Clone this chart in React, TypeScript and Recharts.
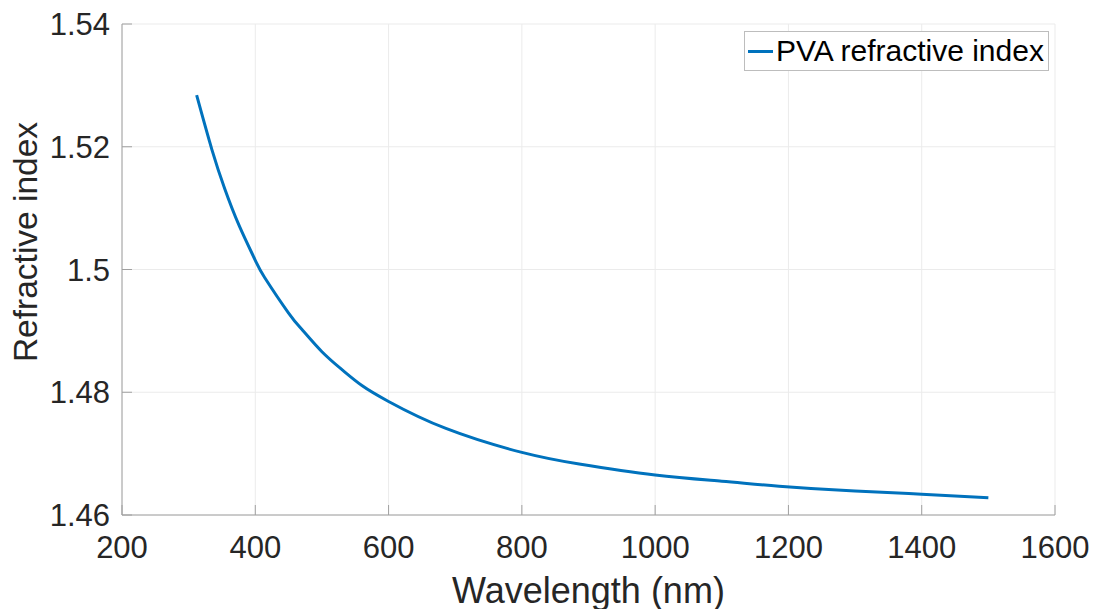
import React from "react";
import {
  LineChart, Line, XAxis, YAxis, CartesianGrid, Legend, Label,
} from "recharts";

// wavelength (nm) and refractive index
const wavelength = [312, 335, 354, 376, 400, 414, 450, 471, 500, 531, 560, 600, 686, 800, 886, 1000, 1100, 1186, 1300, 1400, 1500];
const refIndex = [1.5284, 1.5195, 1.5132, 1.5071, 1.5015, 1.4987, 1.4929, 1.4901, 1.4866, 1.4836, 1.4811, 1.4785, 1.4741, 1.4702, 1.4683, 1.4665, 1.4655, 1.4647, 1.4639, 1.4634, 1.4628];

const xTicks = [200, 400, 600, 800, 1000, 1200, 1400, 1600];
const yTicks = [1.46, 1.48, 1.5, 1.52, 1.54];

const seriesName = "PVA refractive index";

const data = wavelength.map((w, i) => ({ w, n: refIndex[i] }));

const FONT = '"Liberation Sans", Arial, Helvetica, sans-serif';
const BLUE = "#0072BD";
const AXIS = "#a0a0a0";
const TEXT = "#262626";

function LegendBox() {
  return (
    <div
      style={{
        boxSizing: "border-box",
        width: 305,
        height: 40,
        border: "1px solid #bdbdbd",
        background: "#fff",
        display: "flex",
        alignItems: "center",
        fontFamily: FONT,
        fontSize: 30,
        color: "#000",
        whiteSpace: "nowrap",
      }}
    >
      <span style={{ display: "inline-block", width: 25, height: 3, background: BLUE, marginLeft: 3, marginRight: 3 }} />
      <span>{seriesName}</span>
    </div>
  );
}

export default function App() {
  return (
    <div style={{ position: "absolute", left: 0, top: 0, background: "#fff" }}>
      <LineChart width={1095} height={609} data={data} margin={{ top: 24, right: 40, left: 0, bottom: 0 }}>
        <CartesianGrid stroke="#ebebeb" strokeWidth={1} />
        <XAxis
          dataKey="w"
          type="number"
          domain={[200, 1600]}
          ticks={xTicks}
          interval={0}
          height={94}
          tickSize={-10}
          tickMargin={31}
          axisLine={{ stroke: AXIS }}
          tickLine={{ stroke: AXIS }}
          tick={{ fill: TEXT, fontSize: 31, fontFamily: FONT }}
        >
          <Label
            content={({ viewBox }: any) => (
              <text
                x={viewBox.x + viewBox.width / 2}
                y={viewBox.y + 88}
                textAnchor="middle"
                fill={TEXT}
                fontSize={36}
                fontFamily={FONT}
              >
                Wavelength (nm)
              </text>
            )}
          />
        </XAxis>
        <XAxis
          xAxisId="top"
          dataKey="w"
          type="number"
          orientation="top"
          domain={[200, 1600]}
          ticks={xTicks}
          interval={0}
          height={0}
          tickSize={-10}
          tick={false}
          axisLine={{ stroke: AXIS }}
          tickLine={{ stroke: AXIS }}
        />
        <YAxis
          type="number"
          domain={[1.46, 1.54]}
          ticks={yTicks}
          interval={0}
          width={122}
          tickSize={-10}
          tickMargin={22}
          axisLine={{ stroke: AXIS }}
          tickLine={{ stroke: AXIS }}
          tick={{ fill: TEXT, fontSize: 31, fontFamily: FONT }}
        >
          <Label
            content={({ viewBox }: any) => {
              const cx = 37;
              const cy = viewBox.y + 218;
              return (
                <text
                  x={cx}
                  y={cy}
                  transform={`rotate(-90, ${cx}, ${cy})`}
                  textAnchor="middle"
                  fill={TEXT}
                  fontSize={33.5}
                  fontFamily={FONT}
                >
                  Refractive index
                </text>
              );
            }}
          />
        </YAxis>
        <YAxis
          yAxisId="right"
          orientation="right"
          type="number"
          domain={[1.46, 1.54]}
          ticks={yTicks}
          interval={0}
          width={0}
          tickSize={-10}
          tick={false}
          axisLine={{ stroke: AXIS }}
          tickLine={{ stroke: AXIS }}
        />
        <Legend
          layout="vertical"
          align="center"
          verticalAlign="middle"
          wrapperStyle={{ top: 31, left: 744, width: 305, height: 40 }}
          content={() => <LegendBox />}
        />
        <Line
          dataKey="n"
          name={seriesName}
          type="natural"
          stroke={BLUE}
          strokeWidth={3}
          dot={false}
          activeDot={false}
          isAnimationActive={false}
        />
      </LineChart>
    </div>
  );
}
